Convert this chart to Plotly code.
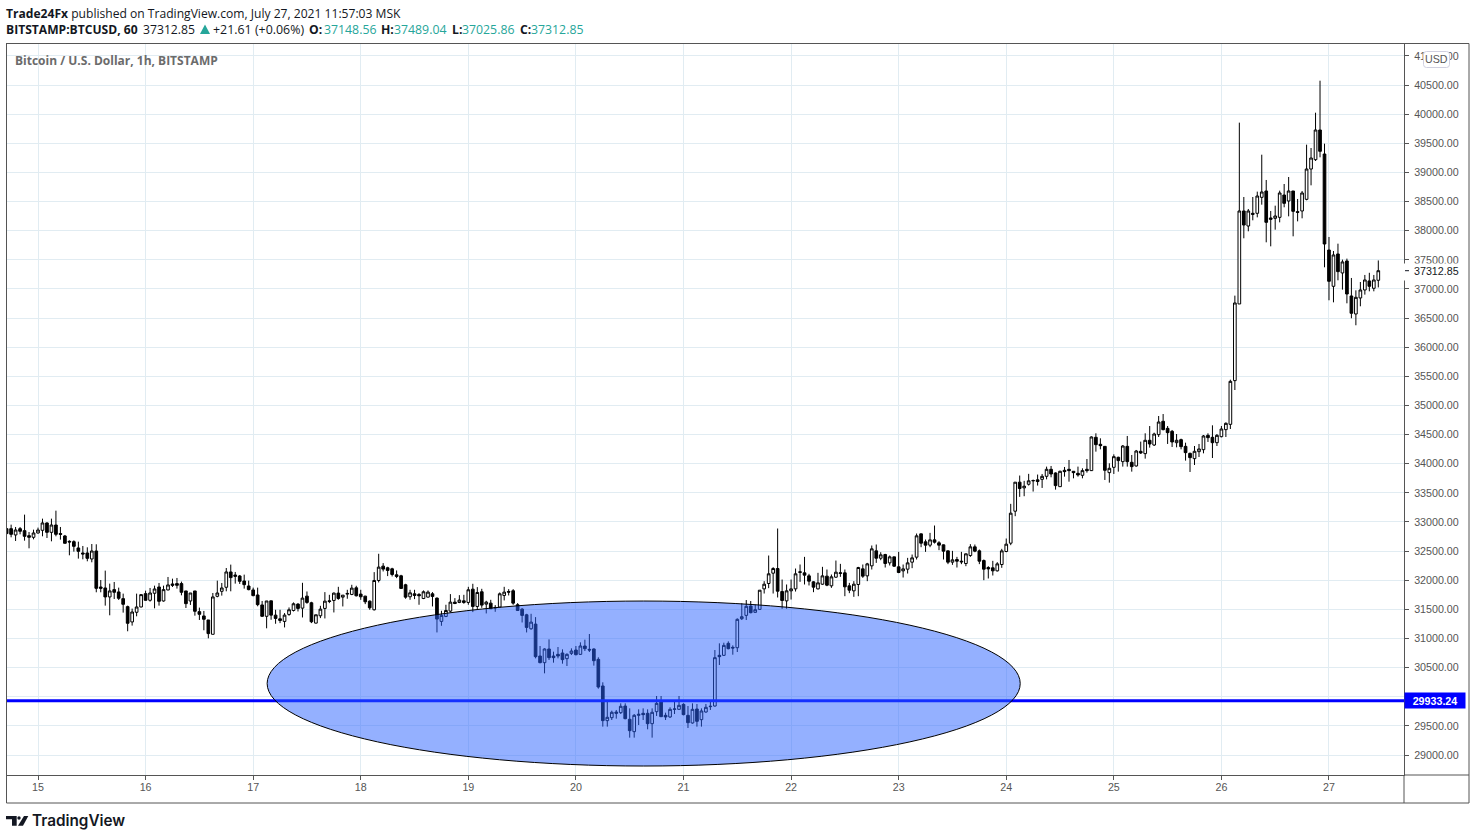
import pandas as pd
import plotly.graph_objects as go

W, H = 1475, 840
LEFT, RIGHT, TOP, BOTTOM = 7, 1404, 44, 775
FRAME_R, FRAME_B = 1469, 803

start_time = "2021-07-14 17:00"

opens = [
    32885, 32885, 32777, 32885, 32851, 32765, 32737, 32811, 32857, 32983,
    32822, 32948, 32800, 32760, 32668, 32662, 32554, 32468, 32468, 32365,
    32502, 31884, 31867, 31713, 31839, 31799, 31684, 31547, 31284, 31450,
    31541, 31770, 31656, 31776, 31884, 31644, 31833, 31936, 31942, 31942,
    31816, 31644, 31816, 31461, 31387, 31318, 31072, 31724, 31810, 31879,
    32142, 32090, 32073, 31987, 31901, 31833, 31747, 31576, 31381, 31647,
    31401, 31338, 31293, 31413, 31481, 31590, 31521, 31727, 31613, 31264,
    31390, 31516, 31647, 31653, 31779, 31710, 31762, 31756, 31870, 31762,
    31727, 31641, 31493, 31996, 32242, 32214, 32196, 32093, 32076, 31922,
    31716, 31767, 31756, 31687, 31710, 31767, 31693, 31293, 31378, 31470,
    31624, 31619, 31647, 31619, 31847, 31550, 31802, 31590, 31607, 31533,
    31539, 31739, 31807, 31819, 31579, 31504, 31407, 31167, 31247, 30699,
    30585, 30820, 30699, 30728, 30751, 30654, 30745, 30802, 30728, 30871,
    30814, 30820, 30642, 30185, 29590, 29641, 29738, 29727, 29841, 29613,
    29401, 29681, 29716, 29716, 29538, 29744, 29922, 29681, 29653, 29784,
    29784, 29870, 29681, 29550, 29790, 29607, 29738, 29830, 29841, 30711,
    30711, 30917, 30848, 30842, 31340, 31397, 31557, 31449, 31500, 31852,
    31944, 32121, 32201, 31806, 31646, 31818, 31852, 32133, 32127, 32075,
    31972, 31852, 31932, 32070, 31904, 32052, 32115, 32127, 31904, 31818,
    31927, 32195, 32075, 32247, 32504, 32378, 32441, 32298, 32401, 32230,
    32161, 32190, 32310, 32396, 32796, 32659, 32602, 32693, 32642, 32607,
    32504, 32310, 32356, 32327, 32287, 32424, 32573, 32504, 32338, 32218,
    32213, 32161, 32270, 32493, 32636, 33185, 33683, 33585, 33648, 33706,
    33723, 33732, 33784, 33904, 33841, 33606, 33887, 33904, 33870, 33835,
    33801, 33904, 33881, 34453, 34333, 34298, 33847, 33938, 34110, 34035,
    34298, 34024, 33961, 34213, 34173, 34402, 34321, 34499, 34728, 34607,
    34556, 34361, 34413, 34298, 34178, 34087, 34207, 34241, 34487, 34453,
    34361, 34464, 34585, 34676, 35426, 36742, 38338, 38080, 38298, 38298,
    38572, 38681, 38218, 38212, 38229, 38612, 38509, 38681, 38326, 38338,
    38538, 39058, 39219, 39728, 39316, 37668, 37045, 37600, 37274, 37480,
    36879, 36570, 36845, 36982, 37137, 37011, 37148.56,
]
highs = [
    32885, 32954, 32914, 32914, 33126, 32828, 32868, 32903, 33057, 32994,
    33057, 33194, 32914, 32777, 32685, 32685, 32662, 32588, 32565, 32622,
    32617, 32004, 32165, 31942, 31970, 31873, 31770, 31564, 31513, 31770,
    31759, 31821, 31867, 31907, 31953, 31907, 32056, 32027, 32039, 31976,
    31816, 31781, 31816, 31530, 31473, 31318, 31781, 31993, 31953, 32210,
    32268, 32142, 32090, 32096, 31993, 31873, 31873, 31644, 31644, 31647,
    31493, 31493, 31436, 31533, 31619, 31607, 31956, 31807, 31630, 31407,
    31561, 31796, 31750, 31790, 31887, 31744, 31836, 31922, 31905, 31836,
    31733, 31653, 32139, 32454, 32294, 32231, 32214, 32168, 32093, 31939,
    31836, 31836, 31779, 31825, 31825, 31796, 31704, 31476, 31579, 31762,
    31693, 31744, 31750, 31887, 31939, 31882, 31853, 31647, 31664, 31573,
    31790, 31887, 31847, 31847, 31607, 31521, 31424, 31424, 31367, 30871,
    30831, 30985, 30774, 30854, 30814, 30745, 30831, 30871, 30934, 30980,
    31077, 30831, 30677, 30248, 29922, 29761, 29773, 29887, 29887, 29801,
    29704, 29784, 29801, 29784, 29801, 30013, 30013, 29727, 29819, 29916,
    30013, 29887, 29841, 29887, 29876, 29801, 29876, 29916, 30802, 30917,
    30928, 30951, 30882, 31346, 31603, 31660, 31643, 31580, 31829, 31984,
    32424, 32224, 32888, 32012, 31927, 32012, 32201, 32270, 32401, 32110,
    31984, 32127, 32230, 32184, 32098, 32338, 32281, 32184, 31955, 31984,
    32230, 32270, 32298, 32596, 32613, 32481, 32453, 32424, 32401, 32487,
    32270, 32384, 32441, 32802, 32802, 32699, 32813, 32939, 32670, 32613,
    32510, 32504, 32401, 32487, 32459, 32619, 32613, 32527, 32356, 32241,
    32333, 32310, 32539, 32716, 33311, 33683, 33797, 33706, 33826, 33728,
    33814, 33824, 33950, 33961, 33852, 33881, 33944, 34064, 33875, 33950,
    33921, 34081, 34470, 34522, 34436, 34304, 34007, 34161, 34121, 34321,
    34476, 34150, 34236, 34379, 34522, 34647, 34533, 34819, 34853, 34647,
    34579, 34510, 34430, 34361, 34190, 34304, 34339, 34493, 34522, 34659,
    34510, 34647, 34710, 35442, 36885, 39854, 38578, 38372, 38578, 38670,
    39304, 38870, 38338, 38429, 38687, 38801, 38921, 38681, 38544, 38681,
    39476, 39419, 40025, 40574, 39493, 37892, 37651, 37777, 37503, 37520,
    37188, 36976, 37119, 37240, 37277, 37240, 37489.04,
]
lows = [
    32800, 32737, 32674, 32788, 32679, 32548, 32702, 32800, 32754, 32725,
    32668, 32754, 32697, 32634, 32428, 32491, 32371, 32359, 32325, 32308,
    31793, 31793, 31564, 31398, 31678, 31661, 31444, 31124, 31221, 31381,
    31535, 31650, 31633, 31518, 31564, 31633, 31827, 31884, 31856, 31741,
    31524, 31576, 31392, 31318, 31141, 31003, 31072, 31707, 31736, 31810,
    31810, 31942, 31936, 31856, 31827, 31724, 31553, 31370, 31175, 31321,
    31253, 31264, 31190, 31390, 31464, 31464, 31361, 31596, 31264, 31258,
    31350, 31344, 31607, 31447, 31664, 31550, 31682, 31744, 31722, 31664,
    31590, 31493, 31481, 31962, 32151, 32071, 32065, 32036, 31853, 31682,
    31664, 31676, 31579, 31676, 31704, 31550, 31104, 31218, 31367, 31447,
    31590, 31607, 31596, 31579, 31453, 31493, 31527, 31430, 31510, 31458,
    31527, 31653, 31739, 31579, 31481, 31275, 31104, 31150, 30659, 30574,
    30402, 30631, 30585, 30659, 30568, 30528, 30717, 30711, 30717, 30785,
    30768, 30534, 30139, 29487, 29487, 29601, 29624, 29704, 29613, 29298,
    29298, 29515, 29601, 29441, 29298, 29670, 29653, 29601, 29636, 29704,
    29773, 29681, 29464, 29538, 29487, 29487, 29727, 29773, 29830, 30545,
    30699, 30814, 30722, 30768, 31317, 31317, 31432, 31443, 31490, 31772,
    31864, 31772, 31704, 31509, 31509, 31669, 31806, 31972, 31927, 31910,
    31795, 31841, 31921, 31898, 31869, 32041, 32058, 31726, 31778, 31715,
    31726, 32041, 31984, 32184, 32298, 32344, 32218, 32253, 32230, 32121,
    32047, 32115, 32207, 32356, 32567, 32487, 32567, 32630, 32516, 32356,
    32276, 32264, 32218, 32276, 32241, 32401, 32481, 32276, 32001, 32030,
    32081, 32150, 32213, 32481, 32602, 33099, 33431, 33442, 33625, 33522,
    33625, 33584, 33732, 33767, 33555, 33601, 33778, 33692, 33749, 33778,
    33749, 33847, 33875, 34207, 34247, 33721, 33675, 33824, 33864, 33950,
    33950, 33864, 33950, 34167, 34087, 34276, 34304, 34459, 34573, 34339,
    34287, 34281, 34247, 34053, 33858, 33978, 34115, 34178, 34373, 34098,
    34304, 34453, 34459, 34596, 35265, 36742, 37869, 37989, 38178, 38229,
    38446, 37800, 37731, 38017, 38143, 38401, 38246, 37903, 38160, 38212,
    38521, 38778, 39196, 39259, 37371, 36805, 36770, 37148, 36988, 36753,
    36496, 36376, 36702, 36902, 36959, 36959, 37025.86,
]
closes = [
    32800, 32788, 32862, 32840, 32754, 32737, 32811, 32862, 32983, 32822,
    32948, 32788, 32788, 32634, 32657, 32582, 32496, 32451, 32376, 32502,
    31861, 31861, 31713, 31816, 31793, 31690, 31587, 31261, 31455, 31541,
    31753, 31656, 31781, 31850, 31638, 31839, 31919, 31913, 31913, 31793,
    31598, 31781, 31467, 31415, 31330, 31084, 31713, 31781, 31867, 32142,
    32045, 32067, 31982, 31924, 31839, 31736, 31581, 31381, 31644, 31401,
    31344, 31310, 31401, 31493, 31596, 31516, 31693, 31619, 31287, 31407,
    31504, 31641, 31636, 31779, 31687, 31744, 31773, 31865, 31733, 31716,
    31630, 31527, 31996, 32225, 32191, 32168, 32099, 32065, 31859, 31710,
    31784, 31739, 31733, 31802, 31796, 31722, 31333, 31396, 31481, 31624,
    31601, 31659, 31619, 31836, 31550, 31790, 31573, 31624, 31510, 31527,
    31767, 31796, 31796, 31607, 31481, 31396, 31190, 31281, 30688, 30585,
    30820, 30671, 30671, 30699, 30637, 30728, 30785, 30722, 30871, 30825,
    30802, 30619, 30167, 29590, 29647, 29733, 29716, 29836, 29624, 29418,
    29681, 29698, 29693, 29538, 29733, 29887, 29658, 29653, 29784, 29790,
    29853, 29693, 29555, 29784, 29578, 29756, 29819, 29836, 30671, 30688,
    30882, 30825, 30837, 31329, 31374, 31552, 31443, 31494, 31829, 31932,
    32110, 32201, 31812, 31652, 31818, 31852, 32110, 32144, 32087, 31984,
    31881, 31955, 32075, 31915, 32058, 32138, 32127, 31887, 31829, 31932,
    32218, 32070, 32281, 32539, 32378, 32436, 32287, 32401, 32241, 32133,
    32195, 32298, 32384, 32762, 32636, 32602, 32693, 32653, 32602, 32499,
    32310, 32350, 32327, 32316, 32453, 32573, 32499, 32327, 32190, 32195,
    32161, 32281, 32504, 32619, 33151, 33683, 33574, 33614, 33706, 33711,
    33694, 33784, 33904, 33824, 33624, 33870, 33864, 33881, 33847, 33807,
    33881, 33881, 34459, 34327, 34310, 33887, 33921, 34121, 34053, 34304,
    34035, 33950, 34218, 34184, 34402, 34339, 34510, 34716, 34585, 34533,
    34373, 34402, 34293, 34190, 34104, 34213, 34253, 34476, 34447, 34361,
    34487, 34596, 34693, 35414, 36759, 38338, 38097, 38338, 38281, 38595,
    38664, 38143, 38195, 38252, 38647, 38469, 38681, 38332, 38315, 38647,
    39058, 39247, 39728, 39362, 37771, 37131, 37583, 37297, 37463, 36913,
    36582, 36856, 36982, 37154, 37045, 37154, 37312.85,
]

day_ticks = ["2021-07-%02d" % d for d in range(15, 28)]
day_labels = [str(d) for d in range(15, 28)]
price_ticks = list(range(29000, 41001, 500))
# 30000 sits behind the blue level label, so its text is left out
price_labels = ["" if p == 30000 else "%.2f" % p for p in price_ticks]

x_range = ["2021-07-14 17:05", "2021-07-27 16:44"]
y_range = [28657, 41204]
level_price = 29933.24
last_price = 37312.85
ellipse_x = ["2021-07-17 03:07", "2021-07-24 03:07"]
ellipse_y = [28811, 31643]

times = pd.date_range(start_time, periods=len(closes), freq="h")


def px(x):
    return (x - LEFT) / (RIGHT - LEFT)


def py(y):
    return (BOTTOM - y) / (BOTTOM - TOP)


def path(points):
    return "M " + " L ".join("%.5f,%.5f" % (px(a), py(b)) for a, b in points) + " Z"


def round_box(x0, y0, x1, y1, r):
    return ("M %.5f,%.5f L %.5f,%.5f Q %.5f,%.5f %.5f,%.5f L %.5f,%.5f Q %.5f,%.5f %.5f,%.5f "
            "L %.5f,%.5f Q %.5f,%.5f %.5f,%.5f L %.5f,%.5f Q %.5f,%.5f %.5f,%.5f Z" % (
                px(x0 + r), py(y0), px(x1 - r), py(y0), px(x1), py(y0), px(x1), py(y0 + r),
                px(x1), py(y1 - r), px(x1), py(y1), px(x1 - r), py(y1),
                px(x0 + r), py(y1), px(x0), py(y1), px(x0), py(y1 - r),
                px(x0), py(y0 + r), px(x0), py(y0), px(x0 + r), py(y0)))


fig = go.Figure()
fig.add_trace(go.Candlestick(
    x=times, open=opens, high=highs, low=lows, close=closes,
    increasing=dict(line=dict(color="#000000", width=1), fillcolor="#ffffff"),
    decreasing=dict(line=dict(color="#000000", width=1), fillcolor="#000000"),
    whiskerwidth=0, showlegend=False,
))

teal = "#26a69a"
ink = "#131722"
frame = "#555555"
logo = dict(type="path", xref="paper", yref="paper", fillcolor=ink, line=dict(width=0))
shapes = [
    # blue level, then the ellipse over it
    dict(type="line", xref="paper", yref="y", x0=0, x1=1, y0=level_price, y1=level_price,
         line=dict(color="#0000ff", width=3)),
    dict(type="circle", xref="x", yref="y", x0=ellipse_x[0], x1=ellipse_x[1],
         y0=ellipse_y[0], y1=ellipse_y[1],
         fillcolor="rgba(41,98,255,0.5)", line=dict(color="#000000", width=1)),
    # outer frame
    dict(type="rect", xref="paper", yref="paper", x0=px(6.5), x1=px(FRAME_R), y0=py(FRAME_B), y1=py(43.5),
         line=dict(color=frame, width=1)),
    dict(type="line", xref="paper", yref="paper", x0=1, x1=1, y0=py(FRAME_B), y1=0,
         line=dict(color=frame, width=1)),
    dict(type="line", xref="paper", yref="paper", x0=1, x1=px(FRAME_R), y0=0, y1=0,
         line=dict(color=frame, width=1)),
    # white plate behind the last price, with its own tick
    dict(type="rect", xref="paper", yref="paper", x0=px(1403), x1=px(1464), y0=py(280.5), y1=py(263.5),
         fillcolor="#ffffff", line=dict(width=0)),
    dict(type="line", xref="paper", yref="y", x0=px(1405), x1=px(1409), y0=last_price, y1=last_price,
         line=dict(color=ink, width=1)),
    # USD button
    dict(type="path", xref="paper", yref="paper", fillcolor="#ffffff", line=dict(color="#d0d0e0", width=1),
         path=round_box(1423.5, 51.5, 1449.5, 67.5, 3)),
    # triangle in the header
    dict(type="path", xref="paper", yref="paper", fillcolor=teal, line=dict(width=0),
         path=path([(200, 34), (210, 34), (205, 24.5)])),
    # logo
    dict(logo, path=path([(6, 816), (16.7, 816), (16.7, 825.7), (12, 825.7), (12, 819.3), (6, 819.3)])),
    dict(logo, path=path([(24, 816), (28.3, 816), (23, 825.7), (18, 825.7)])),
    dict(type="circle", xref="paper", yref="paper", fillcolor=ink, line=dict(width=0),
         x0=px(17.3), x1=px(20.7), y0=py(819.7), y1=py(816.3)),
]

ui_font = "Open Sans"
header_bits = [
    ("<b>BITSTAMP:BTCUSD, 60</b>", 4, ink, 12.1),
    ("37312.85", 141, ink, 12.2),
    ("+21.61 (+0.06%)", 211, ink, 12.4),
    ("<b>O:</b>", 307, ink, 12.2),
    ("37148.56", 321.5, teal, 12.3),
    ("<b>H:</b>", 379, ink, 12.2),
    ("37489.04", 392, teal, 12.3),
    ("<b>L:</b>", 450, ink, 12.2),
    ("37025.86", 460, teal, 12.3),
    ("<b>C:</b>", 518, ink, 12.2),
    ("37312.85", 529, teal, 12.3),
]
annotations = [
    dict(text="<b>Trade24Fx</b> published on TradingView.com, July 27, 2021 11:57:03 MSK", x=px(4), y=py(13),
         font=dict(family=ui_font, size=12.1, color=ink)),
    dict(text="<b>Bitcoin / U.S. Dollar, 1h, BITSTAMP</b>", x=px(13), y=py(60),
         font=dict(family=ui_font, size=12, color="#6b6b6b")),
    dict(text="TradingView", x=px(30), y=py(821),
         font=dict(family="Inter", size=15.3, color=ink, weight=600)),
]
annotations += [dict(text=t, x=px(a), y=py(29), font=dict(family=ui_font, size=s, color=c))
                for t, a, c, s in header_bits]
annotations = [dict(a, xref="paper", yref="paper", xanchor="left", yanchor="middle", showarrow=False)
               for a in annotations]
annotations += [
    dict(text="<b>29933.24</b>", xref="paper", yref="y", x=1, y=level_price, xanchor="left", yanchor="middle",
         showarrow=False, bgcolor="#0000ff", width=60, height=15, borderpad=0,
         font=dict(family="Liberation Sans", size=10.7, color="#ffffff")),
    dict(text="37312.85", xref="paper", yref="y", x=px(1436), y=last_price, xanchor="center", yanchor="middle",
         showarrow=False, font=dict(family="Liberation Sans", size=10.7, color=ink)),
    dict(text="USD", xref="paper", yref="paper", x=px(1436.5), y=py(59.5), xanchor="center", yanchor="middle",
         showarrow=False, font=dict(family="Liberation Sans", size=10.7, color=frame)),
]

tick_font = dict(family="Liberation Sans", size=10.7, color=frame)
fig.update_layout(
    width=W, height=H, margin=dict(l=LEFT, r=W - RIGHT, t=TOP, b=H - BOTTOM, autoexpand=False),
    paper_bgcolor="#ffffff", plot_bgcolor="#ffffff", showlegend=False, boxgap=0.15,
    shapes=shapes, annotations=annotations,
    xaxis=dict(type="date", range=x_range, rangeslider=dict(visible=False),
               tickmode="array", tickvals=day_ticks, ticktext=day_labels,
               showgrid=True, gridcolor="#e1ecf2", gridwidth=1, zeroline=False,
               ticks="outside", ticklen=4, tickcolor=frame, ticklabelstandoff=-2,
               showline=True, linecolor=frame, linewidth=1, mirror=True, tickfont=tick_font),
    yaxis=dict(range=y_range, side="right", tickmode="array", tickvals=price_ticks, ticktext=price_labels,
               showgrid=True, gridcolor="#e1ecf2", gridwidth=1, zeroline=False,
               ticks="outside", ticklen=4, tickcolor=frame, ticklabelstandoff=3,
               showline=True, linecolor=frame, linewidth=1, mirror=True, tickfont=tick_font),
)

fig.write_html("out.html", config={"displayModeBar": False},
               post_script="document.body.style.margin='0';")
